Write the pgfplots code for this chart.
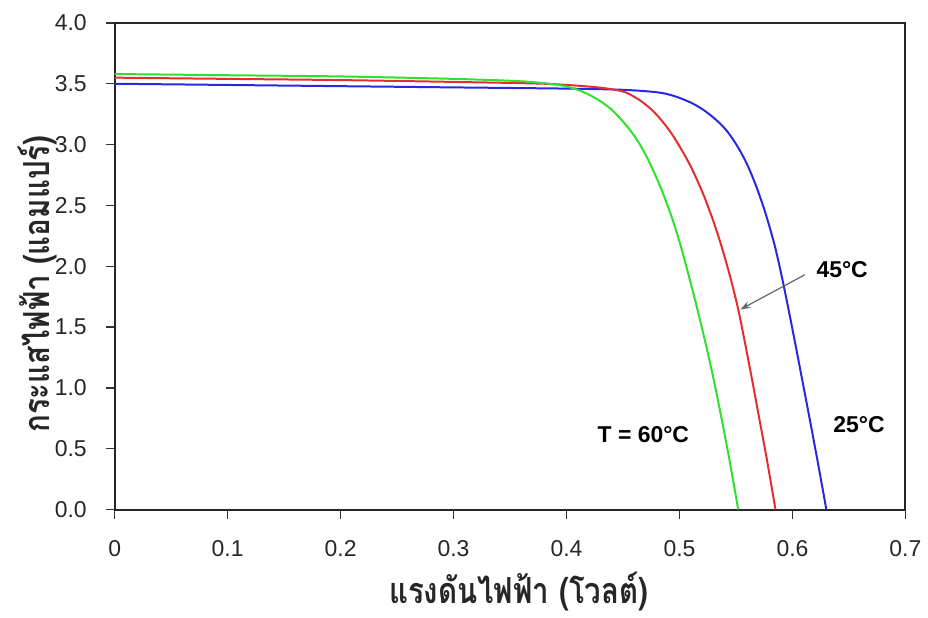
\documentclass[border=0pt]{standalone}
\usepackage{pgfplots}
\pgfplotsset{compat=1.18}
\usepackage{fontspec}
\setmainfont{Liberation Sans}
\newfontfamily\thaifont[Script=Thai, FakeStretch=0.82]{Loma}
\usetikzlibrary{arrows.meta}

\definecolor{cblue}{RGB}{40,40,225}
\definecolor{cred}{RGB}{230,45,45}
\definecolor{cgreen}{RGB}{45,225,45}

\begin{document}
\begin{tikzpicture}
\begin{axis}[
    scale only axis,
    width=396.5pt, height=244pt,
    xmin=0, xmax=0.7,
    ymin=0, ymax=4,
    xtick={0,0.1,0.2,0.3,0.4,0.5,0.6,0.7},
    xticklabels={0,0.1,0.2,0.3,0.4,0.5,0.6,0.7},
    ytick={0,0.5,1,1.5,2,2.5,3,3.5,4},
    yticklabel style={xshift=-6pt, /pgf/number format/.cd, fixed, fixed zerofill, precision=1, assume math mode=true},
    xticklabel style={yshift=-7.5pt},
    tick label style={font=\fontsize{11.5}{13}\selectfont, color=black!85},
    tick align=outside,
    xtick pos=left, ytick pos=left,
    major tick length=4.5pt,
    tick style={black!80, line width=0.7pt},
    axis line style={line width=1pt, black!85},
    xlabel={\thaifont\bfseries แรงดันไฟฟ้า (โวลต์)},
    ylabel={\thaifont\bfseries กระแสไฟฟ้า (แอมแปร์)},
    label style={font=\fontsize{18}{20}\selectfont, color=black!85},
    xlabel style={at={(axis description cs:0.511,-0.168)}, anchor=center},
    ylabel style={at={(axis description cs:-0.097,0.463)}, anchor=center},
    clip=false,
]
% page frame as in the reference
\path (axis description cs:-0.145,-0.209) rectangle (axis description cs:1.0252,1.0471);
% 25 C
\addplot[color=cblue, line width=1pt, smooth] coordinates {
    (0,3.50)(0.1,3.49)(0.2,3.48)(0.3,3.47)(0.4,3.46)(0.45,3.45)(0.48,3.43)
    (0.495,3.40)(0.51,3.345)(0.522,3.28)(0.534,3.19)(0.543,3.10)(0.552,2.975)
    (0.560,2.835)(0.568,2.655)(0.576,2.44)(0.584,2.18)(0.590,1.94)(0.596,1.67)
    (0.603,1.34)(0.610,1.00)(0.617,0.66)(0.624,0.31)(0.630,0.0)
};
% 45 C
\addplot[color=cred, line width=1pt, smooth] coordinates {
    (0,3.55)(0.1,3.54)(0.2,3.53)(0.3,3.515)(0.38,3.50)(0.422,3.475)(0.44,3.455)
    (0.452,3.43)(0.464,3.37)(0.475,3.29)(0.484,3.20)(0.493,3.09)(0.502,2.955)
    (0.510,2.82)(0.516,2.70)(0.522,2.57)(0.530,2.37)(0.537,2.17)(0.545,1.91)
    (0.552,1.645)(0.558,1.37)(0.564,1.08)(0.570,0.78)(0.577,0.43)(0.585,0.0)
};
% 60 C
\addplot[color=cgreen, line width=1pt, smooth] coordinates {
    (0,3.58)(0.1,3.57)(0.2,3.56)(0.3,3.54)(0.36,3.52)(0.393,3.49)(0.41,3.45)
    (0.424,3.39)(0.437,3.31)(0.447,3.22)(0.457,3.11)(0.465,3.00)(0.472,2.88)
    (0.480,2.72)(0.487,2.56)(0.494,2.38)(0.501,2.17)(0.508,1.93)(0.516,1.64)
    (0.523,1.37)(0.530,1.08)(0.537,0.76)(0.544,0.42)(0.552,0.0)
};
% annotations
\node[font=\bfseries\fontsize{11.5}{13}\selectfont] at (axis cs:0.644,1.975) {45°C};
\node[font=\bfseries\fontsize{11.5}{13}\selectfont] at (axis cs:0.659,0.697) {25°C};
\node[font=\bfseries\fontsize{11.5}{13}\selectfont] at (axis cs:0.468,0.615) {T = 60°C};
\draw[-{Stealth[length=5pt,width=3.5pt]}, black!60, line width=0.6pt]
    (axis cs:0.611,1.93) -- (axis cs:0.554,1.645);
\end{axis}
\end{tikzpicture}
\end{document}
